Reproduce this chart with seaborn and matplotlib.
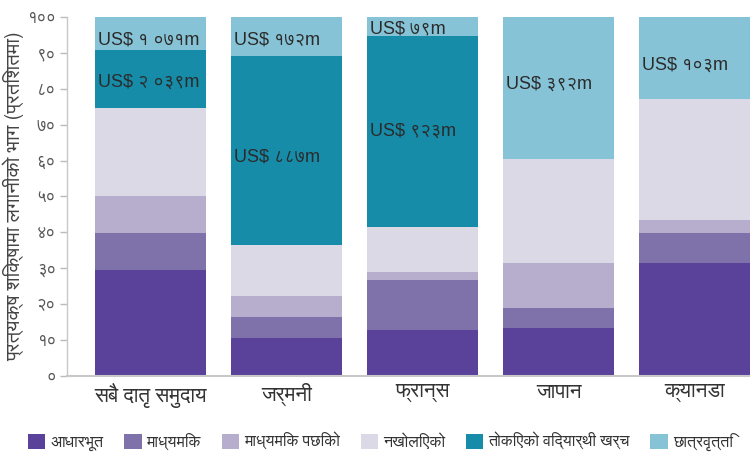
import matplotlib
matplotlib.use("Agg")
import matplotlib.pyplot as plt
from matplotlib import font_manager
from matplotlib.patches import Patch
import seaborn as sns
import numpy as np

# ---------------- data ----------------
categories = ["सबै दातृ समुदाय", "जर्मनी", "फ्रान्स", "जापान", "क्यानडा"]
series_names = ["आधारभूत", "माध्यमिक", "माध्यमिक पछिको", "नखोलिएको",
                "तोकिएको विद्यार्थी खर्च", "छात्रवृत्ति"]
basic = [29.5, 10.6, 12.8, 13.4, 31.5]
secondary = [10.3, 5.8, 13.9, 5.5, 8.3]
post_secondary = [10.3, 5.9, 2.3, 12.6, 3.7]
unallocated = [24.5, 14.2, 12.5, 28.9, 33.7]
imputed_costs = [16.2, 52.6, 53.2, 0.0, 0.0]
scholarships = [9.2, 10.9, 5.3, 39.6, 22.8]
yticks = [0, 10, 20, 30, 40, 50, 60, 70, 80, 90, 100]
ytick_labels = ["०", "१०", "२०", "३०", "४०", "५०", "६०", "७०", "८०", "९०", "१००"]
ann_bar = [0, 0, 1, 1, 2, 2, 3, 4]
ann_text = ["US$ १ ०७१m", "US$ २ ०३९m", "US$ १७२m", "US$ ८८७m",
            "US$ ७९m", "US$ ९२३m", "US$ ३९२m", "US$ १०३m"]
ann_y = [93.5, 81.8, 93.5, 61.0, 96.7, 68.2, 81.3, 86.5]
ylabel = "प्रत्यक्ष शिक्षामा लगानीको भाग (प्रतिशतमा)"

colors = ["#5a4199", "#7f72ab", "#b7aecd", "#dbd9e6", "#168ca9", "#86c3d6"]

# ---------------- fonts ----------------
installed = {f.name for f in font_manager.fontManager.ttflist}
deva = None
for p in ["FreeSans", "Lohit Devanagari", "Noto Sans Devanagari", "Mukta"]:
    if p in installed:
        deva = p
        break
fam = ([deva] if deva else []) + ["DejaVu Sans"]
lat_fam = ["Liberation Sans"] + ([deva] if deva else []) + ["DejaVu Sans"]

sns.set_theme(style="white")
plt.rcParams["font.family"] = fam

fig = plt.figure(figsize=(7.5, 4.53), dpi=100)
ax = fig.add_axes([0.0893, 0.170, 0.9107, 0.7925])

series = [basic, secondary, post_secondary, unallocated, imputed_costs, scholarships]
bottom = np.zeros(len(categories))
width = 0.816
for vals, col in zip(series, colors):
    sns.barplot(x=categories, y=vals, bottom=bottom, color=col, saturation=1,
                width=width, errorbar=None, ax=ax, linewidth=0)
    bottom = bottom + np.array(vals)

for b, t, y in zip(ann_bar, ann_text, ann_y):
    ax.text(b - width / 2 + 0.022, y, t, ha="left", va="center",
            fontsize=13, color="#2b2b2b", family=lat_fam)

ax.set_xlim(-0.614, 4.408)
ax.set_ylim(0, 100)
ax.set_yticks(yticks)
ax.set_yticklabels(ytick_labels, fontsize=12, color="#555555")
ax.tick_params(axis="y", length=5, width=1, color="#bbbbbb", pad=3, left=True)
ax.tick_params(axis="x", length=0, pad=5, labelsize=15, labelcolor="#333333")
ax.set_xlabel("")
ax.set_ylabel(ylabel, fontsize=14.5, color="#444444", labelpad=2)
for s in ["top", "right"]:
    ax.spines[s].set_visible(False)
ax.spines["left"].set_color("#c8c8c8")
ax.spines["bottom"].set_color("#c8c8c8")
ax.spines["left"].set_linewidth(1)
ax.spines["bottom"].set_linewidth(1.5)

handles = [Patch(facecolor=c, edgecolor="none") for c in colors]
fig.legend(handles, series_names, loc="center", bbox_to_anchor=(0.507, 0.024),
           ncol=6, frameon=False, fontsize=11.5, handlelength=1.1, handleheight=1.1,
           handletextpad=0.3, columnspacing=1.3, labelcolor="#333333")

fig.savefig("out.png", dpi=100)
